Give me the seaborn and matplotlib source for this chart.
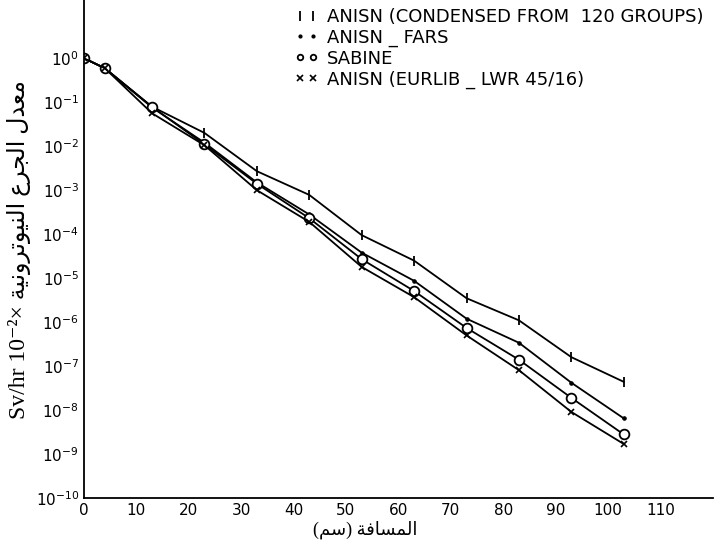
import numpy as np
import pandas as pd
import matplotlib
matplotlib.use("Agg")
import matplotlib.pyplot as plt
import matplotlib.ticker as mticker
from matplotlib.lines import Line2D
import seaborn as sns

# distance (cm)
distance = [0, 4, 13, 23, 33, 43, 53, 63, 73, 83, 93, 103]

# dose rate values
anisn_condensed = [1.0, 0.59, 7.9e-2, 2.0e-2, 2.7e-3, 7.8e-4, 9.5e-5, 2.5e-5, 3.5e-6, 1.1e-6, 1.6e-7, 4.4e-8]
anisn_fars = [1.0, 0.59, 7.6e-2, 1.2e-2, 1.5e-3, 2.8e-4, 3.8e-5, 8.7e-6, 1.2e-6, 3.4e-7, 4.2e-8, 6.5e-9]
sabine = [1.0, 0.59, 7.8e-2, 1.1e-2, 1.4e-3, 2.3e-4, 2.7e-5, 5.1e-6, 7.4e-7, 1.4e-7, 1.9e-8, 2.8e-9]
anisn_eurlib = [1.0, 0.59, 5.6e-2, 1.05e-2, 1.0e-3, 1.9e-4, 1.8e-5, 3.7e-6, 5.0e-7, 8.1e-8, 9.1e-9, 1.7e-9]

labels = [
    "ANISN (CONDENSED FROM  120 GROUPS)",
    "ANISN _ FARS",
    "SABINE",
    "ANISN (EURLIB _ LWR 45/16)",
]

x_ticks = list(range(0, 111, 10))
y_decades = list(range(0, -11, -1))

ylabel_ar = "معدل الجرع النيوترونية"
xlabel_ar = "المسافة"
xunit_ar = "سم"

# Arabic presentation forms: isolated, final, initial, medial
FORMS = {
    "ا": ("\ufe8d", "\ufe8e", None, None),
    "ة": ("\ufe93", "\ufe94", None, None),
    "ت": ("\ufe95", "\ufe96", "\ufe97", "\ufe98"),
    "ج": ("\ufe9d", "\ufe9e", "\ufe9f", "\ufea0"),
    "د": ("\ufea9", "\ufeaa", None, None),
    "ر": ("\ufead", "\ufeae", None, None),
    "س": ("\ufeb1", "\ufeb2", "\ufeb3", "\ufeb4"),
    "ع": ("\ufec9", "\ufeca", "\ufecb", "\ufecc"),
    "ف": ("\ufed1", "\ufed2", "\ufed3", "\ufed4"),
    "ل": ("\ufedd", "\ufede", "\ufedf", "\ufee0"),
    "م": ("\ufee1", "\ufee2", "\ufee3", "\ufee4"),
    "ن": ("\ufee5", "\ufee6", "\ufee7", "\ufee8"),
    "و": ("\ufeed", "\ufeee", None, None),
    "ي": ("\ufef1", "\ufef2", "\ufef3", "\ufef4"),
}


def shape(word):
    """Join arabic letters and return them in visual (left to right) order"""
    out = []
    for i, ch in enumerate(word):
        if ch not in FORMS:
            out.append(ch)
            continue
        prev = word[i - 1] if i > 0 else None
        nxt = word[i + 1] if i + 1 < len(word) else None
        join_prev = prev in FORMS and FORMS[prev][2] is not None
        join_next = nxt in FORMS and FORMS[ch][2] is not None
        iso, fin, ini, med = FORMS[ch]
        if join_prev and join_next:
            out.append(med)
        elif join_prev:
            out.append(fin)
        elif join_next:
            out.append(ini)
        else:
            out.append(iso)
    return "".join(reversed(out))


def shape_phrase(text):
    return " ".join(shape(w) for w in reversed(text.split(" ")))


def main():
    sns.set_theme(style="white")
    plt.rcParams["font.family"] = ["DejaVu Sans"]
    plt.rcParams["text.color"] = "black"
    plt.rcParams["axes.labelcolor"] = "black"

    df = pd.DataFrame({
        "distance": distance * 4,
        "dose": anisn_condensed + anisn_fars + sabine + anisn_eurlib,
        "series": sum([[lab] * len(distance) for lab in labels], []),
    })

    fig = plt.figure(figsize=(7.23, 5.48), dpi=100)
    ax = fig.add_axes([0.116, 0.091, 0.870, 0.909])

    styles = {
        labels[0]: dict(marker="|", markersize=7, markeredgewidth=1.3),
        labels[1]: dict(marker=".", markersize=5),
        labels[2]: dict(marker="o", markersize=7, markerfacecolor="white", markeredgewidth=1.3),
        labels[3]: dict(marker="x", markersize=4, markeredgewidth=1.2),
    }
    for lab in labels:
        sub = df[df["series"] == lab]
        sns.lineplot(data=sub, x="distance", y="dose", ax=ax, color="black",
                     linewidth=1.3, legend=False, markeredgecolor="black", **styles[lab])

    ax.set_yscale("log")
    ax.set_xlim(0, 120)
    ax.set_ylim(1e-10, 21)

    ax.set_xticks(x_ticks)
    ax.set_xticklabels([str(t) for t in x_ticks], fontsize=11)
    ax.set_yticks([10.0 ** d for d in y_decades])
    ax.set_yticklabels([f"$10^{{{d}}}$" for d in y_decades], fontsize=11)
    ax.yaxis.set_minor_locator(mticker.LogLocator(base=10, subs=np.arange(2, 10), numticks=30))
    ax.yaxis.set_minor_formatter(mticker.NullFormatter())
    ax.tick_params(axis="both", which="major", direction="in", length=5, width=1.2, colors="black")
    ax.tick_params(axis="y", which="minor", direction="in", length=3, width=0.8)

    for side in ["top", "right"]:
        ax.spines[side].set_visible(False)
    for side in ["left", "bottom"]:
        ax.spines[side].set_color("black")
        ax.spines[side].set_linewidth(1.3)

    ax.set_xlabel("(" + shape(xunit_ar) + ") " + shape(xlabel_ar),
                  fontsize=13, family=["Liberation Serif", "DejaVu Sans"], labelpad=2)
    ax.xaxis.label.set_x(0.447)
    ax.set_ylabel("Sv/hr 10⁻²× " + shape_phrase(ylabel_ar),
                  fontsize=17, family=["Liberation Serif", "DejaVu Sans"], labelpad=3)

    legend_sizes = [7, 4, 4, 4]
    handles = []
    for lab, ms in zip(labels, legend_sizes):
        st = dict(styles[lab])
        st["markersize"] = ms
        handles.append(Line2D([], [], color="black", linestyle="none", markeredgecolor="black", **st))
    fig.legend(handles, labels, loc="upper left", bbox_to_anchor=(0.385, 1.015),
               frameon=False, numpoints=2, handlelength=1.3, handletextpad=0.5,
               labelspacing=0.15, fontsize=13, labelcolor="black")

    fig.savefig("out.png", dpi=100)


if __name__ == "__main__":
    main()
